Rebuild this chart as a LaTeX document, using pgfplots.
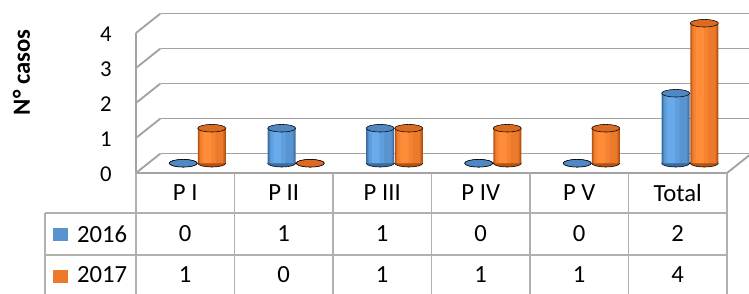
\documentclass[border=0pt]{standalone}
\usepackage{fontspec}
\setmainfont{Carlito}
\usepackage{pgfplots}
\usepackage{pgfplotstable}
\pgfplotsset{compat=1.18}
\definecolor{blueM}{HTML}{5895D0}
\definecolor{blueL}{HTML}{68AAEA}
\definecolor{blueD}{HTML}{3A6CA2}
\definecolor{blueT}{HTML}{4F88C2}
\definecolor{orM}{HTML}{EC7A2C}
\definecolor{orL}{HTML}{FF8C38}
\definecolor{orD}{HTML}{B5520F}
\definecolor{orT}{HTML}{DC6B22}
\definecolor{gridc}{HTML}{A3A3A3}
\definecolor{tabc}{HTML}{B0B0B0}

\pgfplotstableread{
x a b
0.5 0 1
1.5 1 0
2.5 1 1
3.5 0 1
4.5 0 1
5.5 2 4
}\data

\begin{document}
\begin{tikzpicture}[
  front/.style={shift={(-9.2pt,-7.3pt)}},
  back/.style={shift={(9.2pt,7.3pt)}},
  grid/.style={draw=gridc, line width=1.4pt},
  tab/.style={draw=tabc, line width=0.9pt},
  tfont/.style={font=\fontsize{18.5}{20}\selectfont}]
\begin{axis}[
  x=73.875pt, y=26.25pt,
  xmin=0, xmax=6, ymin=0, ymax=4,
  clip=false, clip marker paths=true,
  axis line style={draw=none},
  major tick length=0pt,
  ytick={0,1,2,3,4},
  xtick={0.5,1.5,2.5,3.5,4.5,5.5},
  xticklabels={P I, P II, P III, P IV, P V, Total},
  /pgf/number format/assume math mode=true,
  yticklabel style={font=\fontsize{17}{19}\selectfont, anchor=east, inner sep=0pt, xshift=-27.2pt, yshift=-8.3pt},
  xticklabel style={font=\fontsize{18.5}{20}\selectfont, anchor=center, inner sep=0pt, xshift=-9.2pt, yshift=-22.3pt},
]
% ---- frame ----
\draw[grid, back] (axis cs:0,0) -- (axis cs:6.1,0);
\draw[grid, back] (axis cs:0,1) -- (axis cs:6.1,1);
\draw[grid, back] (axis cs:0,2) -- (axis cs:6.1,2);
\draw[grid, back] (axis cs:0,3) -- (axis cs:6.1,3);
\draw[grid, back] (axis cs:0,4) -- (axis cs:6.1,4);
\draw[grid] (axis cs:0,0) ++(-9.2pt,-7.3pt) -- ++(18.4pt,14.6pt);
\draw[grid] (axis cs:0,1) ++(-9.2pt,-7.3pt) -- ++(18.4pt,14.6pt);
\draw[grid] (axis cs:0,2) ++(-9.2pt,-7.3pt) -- ++(18.4pt,14.6pt);
\draw[grid] (axis cs:0,3) ++(-9.2pt,-7.3pt) -- ++(18.4pt,14.6pt);
\draw[grid] (axis cs:0,4) ++(-9.2pt,-7.3pt) -- ++(18.4pt,14.6pt);
\draw[grid] (axis cs:6,0) ++(-9.2pt,-7.3pt) -- ++(18.4pt,14.6pt);
\draw[grid, front] (axis cs:0,0) -- (axis cs:0,4);
\draw[grid, front] (axis cs:0,0) -- (axis cs:6,0);
% ---- data table grid ----
\draw[tab, front] (axis cs:-0.924,-1.143) -- (axis cs:6,-1.143);
\draw[tab, front] (axis cs:-0.924,-2.343) -- (axis cs:6,-2.343);
\draw[tab, front] (axis cs:-0.924,-1.143) -- (axis cs:-0.924,-3.6);
\draw[tab, front] (axis cs:0,0) -- (axis cs:0,-3.6);
\draw[tab, front] (axis cs:1,0) -- (axis cs:1,-3.6);
\draw[tab, front] (axis cs:2,0) -- (axis cs:2,-3.6);
\draw[tab, front] (axis cs:3,0) -- (axis cs:3,-3.6);
\draw[tab, front] (axis cs:4,0) -- (axis cs:4,-3.6);
\draw[tab, front] (axis cs:5,0) -- (axis cs:5,-3.6);
\draw[tab, front] (axis cs:6,0) -- (axis cs:6,-3.6);
\fill[blueM, front] (axis cs:-0.843,-1.571) rectangle (axis cs:-0.69,-1.943);
\fill[orM, front] (axis cs:-0.843,-2.771) rectangle (axis cs:-0.69,-3.143);
\node[front, tfont, anchor=west, inner sep=0pt] at (axis cs:-0.60,-1.743) {2016};
\node[front, tfont, anchor=west, inner sep=0pt] at (axis cs:-0.60,-2.90) {2017};
% ---- y label ----
\node[rotate=90, font=\fontsize{18.5}{20}\selectfont\bfseries] at (axis cs:-1.287,2.6) {N° casos};
% ---- 2016 cylinders ----
\addplot[only marks, mark=*, mark size=10.5pt, mark options={yscale=0.27, fill=blueD, draw=none}]
  table[x expr=\thisrow{x}-0.145, y expr=0] {\data};
\addplot[ybar, bar width=0.284, bar shift=-0.145, draw=none, fill=blueD] table[x=x, y=a] {\data};
\addplot[ybar, bar width=0.262, bar shift=-0.145, draw=none, fill=blueD!45!blueM] table[x=x, y=a] {\data};
\addplot[ybar, bar width=0.236, bar shift=-0.148, draw=none, fill=blueM] table[x=x, y=a] {\data};
\addplot[ybar, bar width=0.15, bar shift=-0.18, draw=none, fill=blueM!50!blueL] table[x=x, y=a] {\data};
\addplot[ybar, bar width=0.08, bar shift=-0.19, draw=none, fill=blueL] table[x=x, y=a] {\data};
\addplot[only marks, mark=*, mark size=10.5pt, mark options={yscale=0.27, fill=blueT, draw=none}]
  table[x expr=\thisrow{x}-0.145, y=a] {\data};
% ---- 2017 cylinders ----
\addplot[only marks, mark=*, mark size=10.5pt, mark options={yscale=0.27, fill=orD, draw=none}]
  table[x expr=\thisrow{x}+0.145, y expr=0] {\data};
\addplot[ybar, bar width=0.284, bar shift=0.145, draw=none, fill=orD] table[x=x, y=b] {\data};
\addplot[ybar, bar width=0.262, bar shift=0.145, draw=none, fill=orD!45!orM] table[x=x, y=b] {\data};
\addplot[ybar, bar width=0.236, bar shift=0.142, draw=none, fill=orM] table[x=x, y=b] {\data};
\addplot[ybar, bar width=0.15, bar shift=0.11, draw=none, fill=orM!50!orL] table[x=x, y=b] {\data};
\addplot[ybar, bar width=0.08, bar shift=0.10, draw=none, fill=orL] table[x=x, y=b] {\data};
\addplot[only marks, mark=*, mark size=10.5pt, mark options={yscale=0.27, fill=orT, draw=none}]
  table[x expr=\thisrow{x}+0.145, y=b] {\data};
% ---- table values ----
\addplot[draw=none, mark=none, nodes near coords, point meta=explicit,
  nodes near coords style={anchor=center, inner sep=0pt, tfont, xshift=-9.2pt, yshift=-7.3pt}]
  table[x=x, y expr=-1.743, meta=a] {\data};
\addplot[draw=none, mark=none, nodes near coords, point meta=explicit,
  nodes near coords style={anchor=center, inner sep=0pt, tfont, xshift=-9.2pt, yshift=-7.3pt}]
  table[x=x, y expr=-2.90, meta=b] {\data};
\coordinate (bbA) at (axis cs:-1.505,4.664);
\coordinate (bbB) at (axis cs:6.099,-3.736);
\end{axis}
\pgfresetboundingbox
\path[use as bounding box] (bbA) rectangle (bbB);
\end{tikzpicture}
\end{document}
